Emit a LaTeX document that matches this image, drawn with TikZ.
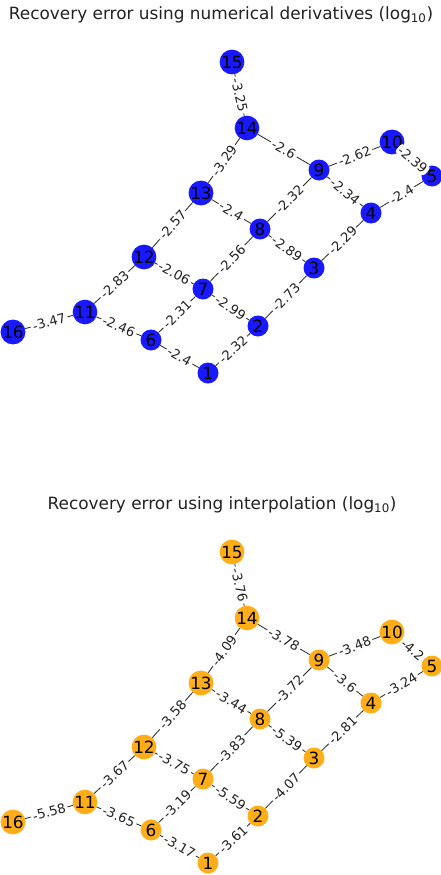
\documentclass[tikz,border=0pt]{standalone}
\usepackage{fontspec}
\setmainfont{DejaVu Sans}
\usepackage{tikz}
\usetikzlibrary{positioning}
\definecolor{cder}{HTML}{0000FF}
\definecolor{cint}{HTML}{FFA500}
\definecolor{ctxt}{HTML}{222222}
\tikzset{
  vtx/.style={circle, inner sep=0pt, minimum size=21pt, fill opacity=0.9,
              text opacity=1, text=black, font=\fontsize{16.8}{17}\selectfont},
  vder/.style={vtx, fill=cder},
  vint/.style={vtx, fill=cint},
  edge/.style={draw=black!85, line width=0.8pt},
  elab/.style={sloped, midway, fill=white, inner xsep=2pt, inner ysep=0.8pt, rounded corners=3pt,
               text=ctxt, font=\fontsize{13.1}{13}\selectfont},
  ttl/.style={text=ctxt, font=\fontsize{16.9}{17}\selectfont}
}

\begin{document}
\begin{tikzpicture}[x=1pt, y=-1pt]
\useasboundingbox (0,0) rectangle (440,875);

% numerical derivatives
\node[ttl] (tder) at (221,15) {Recovery error using numerical derivatives (log\textsubscript{10})};
\node[vder] (d1) at (208,373) {1};
\node[vder] (d2) at (258,326) {2};
\node[vder] (d3) at (314,268) {3};
\node[vder] (d4) at (371,213) {4};
\node[vder] (d5) at (432,176) {5};
\node[vder] (d6) at (151,340) {6};
\node[vder] (d7) at (203,289) {7};
\node[vder] (d8) at (260,229) {8};
\node[vder] (d9) at (319,170) {9};
\node[vder] (d10) at (392,142) {10};
\node[vder] (d11) at (85,312) {11};
\node[vder] (d12) at (144,257) {12};
\node[vder] (d13) at (201,193) {13};
\node[vder] (d14) at (247,128) {14};
\node[vder] (d15) at (232,62) {15};
\node[vder] (d16) at (13,332) {16};
\draw[edge] (d15)--node[elab]{-3.25}(d14); \draw[edge] (d14)--node[elab]{-3.29}(d13);
\draw[edge] (d14)--node[elab]{-2.6}(d9);   \draw[edge] (d9)--node[elab]{-2.62}(d10);
\draw[edge] (d10)--node[elab]{-2.39}(d5);  \draw[edge] (d9)--node[elab]{-2.32}(d8);
\draw[edge] (d9)--node[elab]{-2.34}(d4);   \draw[edge] (d5)--node[elab]{-2.4}(d4);
\draw[edge] (d13)--node[elab]{-2.57}(d12); \draw[edge] (d13)--node[elab]{-2.4}(d8);
\draw[edge] (d8)--node[elab]{-2.56}(d7);   \draw[edge] (d8)--node[elab]{-2.89}(d3);
\draw[edge] (d4)--node[elab]{-2.29}(d3);   \draw[edge] (d12)--node[elab]{-2.83}(d11);
\draw[edge] (d12)--node[elab]{-2.06}(d7);  \draw[edge] (d7)--node[elab]{-2.31}(d6);
\draw[edge] (d7)--node[elab]{-2.99}(d2);   \draw[edge] (d3)--node[elab]{-2.73}(d2);
\draw[edge] (d11)--node[elab]{-3.47}(d16); \draw[edge] (d11)--node[elab]{-2.46}(d6);
\draw[edge] (d6)--node[elab]{-2.4}(d1);    \draw[edge] (d2)--node[elab]{-2.32}(d1);

% interpolation
\begin{scope}[shift={(0,490)}]
\node[ttl] (tint) at (222,15) {Recovery error using interpolation (log\textsubscript{10})};
\node[vint] (i1) at (208,373) {1};
\node[vint] (i2) at (258,326) {2};
\node[vint] (i3) at (314,268) {3};
\node[vint] (i4) at (371,213) {4};
\node[vint] (i5) at (432,176) {5};
\node[vint] (i6) at (151,340) {6};
\node[vint] (i7) at (203,289) {7};
\node[vint] (i8) at (260,229) {8};
\node[vint] (i9) at (319,170) {9};
\node[vint] (i10) at (392,142) {10};
\node[vint] (i11) at (85,312) {11};
\node[vint] (i12) at (144,257) {12};
\node[vint] (i13) at (201,193) {13};
\node[vint] (i14) at (247,128) {14};
\node[vint] (i15) at (232,62) {15};
\node[vint] (i16) at (13,332) {16};
\draw[edge] (i15)--node[elab]{-3.76}(i14); \draw[edge] (i14)--node[elab]{-4.09}(i13);
\draw[edge] (i14)--node[elab]{-3.78}(i9);  \draw[edge] (i9)--node[elab]{-3.48}(i10);
\draw[edge] (i10)--node[elab]{-4.2}(i5);   \draw[edge] (i9)--node[elab]{-3.72}(i8);
\draw[edge] (i9)--node[elab]{-3.6}(i4);    \draw[edge] (i5)--node[elab]{-3.24}(i4);
\draw[edge] (i13)--node[elab]{-3.58}(i12); \draw[edge] (i13)--node[elab]{-3.44}(i8);
\draw[edge] (i8)--node[elab]{-3.83}(i7);   \draw[edge] (i8)--node[elab]{-5.39}(i3);
\draw[edge] (i4)--node[elab]{-2.81}(i3);   \draw[edge] (i12)--node[elab]{-3.67}(i11);
\draw[edge] (i12)--node[elab]{-3.75}(i7);  \draw[edge] (i7)--node[elab]{-3.19}(i6);
\draw[edge] (i7)--node[elab]{-5.59}(i2);   \draw[edge] (i3)--node[elab]{-4.07}(i2);
\draw[edge] (i11)--node[elab]{-5.58}(i16); \draw[edge] (i11)--node[elab]{-3.65}(i6);
\draw[edge] (i6)--node[elab]{-3.17}(i1);   \draw[edge] (i2)--node[elab]{-3.61}(i1);
\end{scope}
\end{tikzpicture}
\end{document}
